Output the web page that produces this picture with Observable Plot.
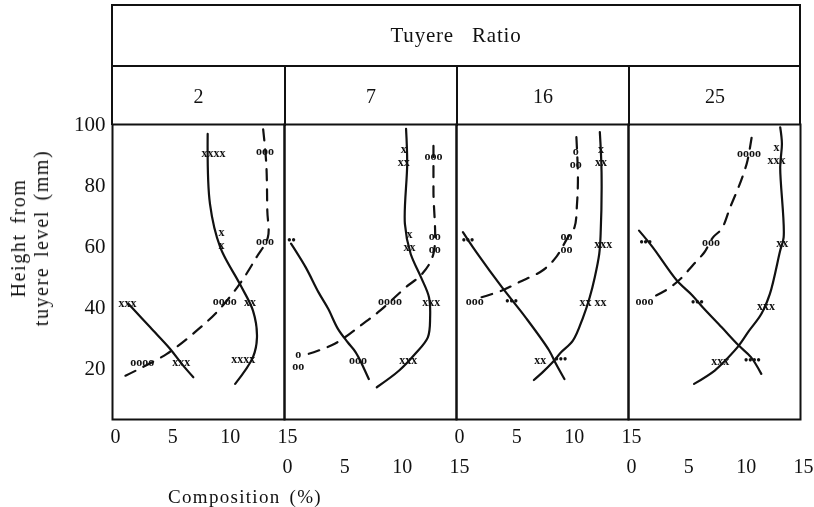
<!DOCTYPE html>
<html><head><meta charset="utf-8">
<script src="https://cdn.jsdelivr.net/npm/d3@7"></script>
<script src="https://cdn.jsdelivr.net/npm/@observablehq/plot@0.6"></script>
<style>
body{margin:0;background:#fff;font-family:"Liberation Serif","DejaVu Serif",serif;color:#111}
#wrap{position:relative;width:814px;height:507px;overflow:hidden;background:#fff}
#chart{position:absolute;left:0;top:0;will-change:transform}
#hdr{position:absolute;top:4px;box-sizing:border-box;border:2px solid #111;border-bottom:none}
#title{height:59px;border-bottom:2px solid #111;display:flex;align-items:center;justify-content:center;font-size:21px;letter-spacing:0.8px;word-spacing:12px}
#row{position:relative;height:59px}
.cell{position:absolute;top:0;height:59px;display:flex;align-items:center;justify-content:center;font-size:20px;box-sizing:border-box}
#ylab{position:absolute;left:30px;top:238px;transform:translate(-50%,-50%) rotate(-90deg);text-align:center;font-size:20px;line-height:23px;white-space:nowrap;letter-spacing:1.6px;word-spacing:3px}
#xlab{position:absolute;left:245px;top:497px;transform:translate(-50%,-50%);font-size:19px;white-space:nowrap;letter-spacing:1.3px;word-spacing:3px}
</style></head>
<body>
<div id="wrap">
  <div id="chart"></div>
  <div id="hdr"><div id="title">Tuyere Ratio</div><div id="row"></div></div>
  <div id="ylab">Height from<br>tuyere level (mm)</div>
  <div id="xlab">Composition (%)</div>
</div>
<script>
const ratios = [2, 7, 16, 25];
const xTicks = [0, 5, 10, 15];
const yTicks = [20, 40, 60, 80, 100];

// measured clusters: [ratio, composition %, height mm, printed symbols]
const co2Points = [
  [2, 8.8, 90.8, "xxxx"], [2, 9.5, 62.5, "x\nx"], [2, 12.0, 41.8, "xx"], [2, 11.4, 23.0, "xxxx"],
  [7, 10.4, 89.8, "x\nxx"], [7, 10.9, 61.8, "x\nxx"], [7, 12.8, 41.5, "xxx"], [7, 10.8, 22.6, "xxx"],
  [16, 12.6, 89.8, "x\nxx"], [16, 12.8, 60.8, "xxx"], [16, 11.9, 41.5, "xx xx"], [16, 7.3, 22.6, "xx"],
  [25, 12.9, 90.4, "x\nxxx"], [25, 13.4, 61.0, "xx"], [25, 12.0, 40.5, "xxx"], [25, 8.0, 22.4, "xxx"]
];
const coPoints = [
  [2, 13.3, 91.2, "ooo"], [2, 13.3, 61.8, "ooo"], [2, 9.8, 41.9, "oooo"], [2, 2.6, 21.8, "oooo"],
  [7, 13.0, 89.8, "ooo"], [7, 13.1, 61.3, "oo\noo"], [7, 9.2, 42.1, "oooo"], [7, 1.2, 22.6, "o\noo"],
  [16, 10.4, 89.2, "o\noo"], [16, 9.6, 61.3, "oo\noo"], [16, 1.6, 42.1, "ooo"],
  [25, 10.5, 90.6, "oooo"], [25, 7.2, 61.3, "ooo"], [25, 1.4, 41.9, "ooo"]
];
const o2Points = [
  [2, 1.3, 41.2, "xxx"], [2, 6.0, 21.8, "xxx"],
  [7, 0.6, 62.1, "••"], [7, 6.4, 22.6, "ooo"],
  [16, 1.0, 62.1, "•••"], [16, 4.8, 41.9, "•••"], [16, 9.1, 22.9, "•••"],
  [25, 1.5, 61.5, "•••"], [25, 6.0, 41.8, "•••"], [25, 10.8, 22.6, "••••"]
];

// hand-drawn trend curves: [ratio, composition %, height mm]
const co2Curve = [
  [2, 8.3, 96.9], [2, 8.5, 73.9], [2, 9.4, 59.6], [2, 11.1, 47.6], [2, 12.25, 38.8], [2, 12.6, 30.0], [2, 12.25, 23.5], [2, 10.7, 14.7],
  [7, 10.6, 98.6], [7, 10.7, 87.1], [7, 10.5, 67.3], [7, 11.0, 57.5], [7, 11.9, 49.8], [7, 12.6, 43.2], [7, 12.7, 36.6], [7, 12.5, 30.0], [7, 11.4, 24.6], [7, 10.0, 19.1], [7, 8.05, 13.6],
  [16, 12.5, 97.5], [16, 12.65, 84.3], [16, 12.57, 64.0], [16, 12.45, 57.5], [16, 12.06, 49.8], [16, 11.62, 43.2], [16, 11.04, 36.6], [16, 10.15, 28.9], [16, 9.12, 25.1], [16, 8.38, 21.8], [16, 7.5, 18.5], [16, 6.75, 16.0],
  [25, 13.23, 99.1], [25, 13.38, 93.7], [25, 13.23, 86.0], [25, 13.53, 62.9], [25, 13.23, 58.6], [25, 12.33, 44.3], [25, 11.58, 37.7], [25, 10.52, 32.2], [25, 9.62, 27.3], [25, 8.72, 23.5], [25, 7.52, 19.1], [25, 5.72, 14.7]
];
const coCurve = [
  [2, 1.13, 17.4], [2, 4.74, 24.6], [2, 7.34, 32.2], [2, 9.22, 38.8], [2, 11.1, 47.6], [2, 12.55, 56.3], [2, 13.55, 62.9], [2, 13.5, 71.7], [2, 13.41, 87.1], [2, 13.12, 99.1],
  [7, 2.12, 24.6], [7, 4.38, 27.9], [7, 6.64, 33.9], [7, 8.33, 38.8], [7, 10.59, 46.5], [7, 12.01, 50.9], [7, 12.99, 57.5], [7, 12.99, 78.3], [7, 12.99, 95.8],
  [16, 2.19, 43.2], [16, 3.96, 45.4], [16, 5.43, 48.1], [16, 7.5, 52.0], [16, 8.67, 56.3], [16, 9.71, 62.9], [16, 10.29, 66.2], [16, 10.51, 73.9], [16, 10.59, 82.7], [16, 10.44, 96.9],
  [25, 2.41, 43.8], [25, 3.47, 46.0], [25, 4.52, 49.2], [25, 5.72, 54.2], [25, 6.62, 58.0], [25, 7.37, 62.9], [25, 8.13, 65.7], [25, 8.87, 72.8], [25, 9.48, 78.3], [25, 9.93, 82.7], [25, 10.38, 88.2], [25, 10.83, 98.0]
];
const o2Curve = [
  [2, 1.41, 41.0], [2, 3.29, 33.3], [2, 5.03, 26.2], [2, 6.04, 21.3], [2, 7.05, 16.9],
  [7, 0.57, 60.8], [7, 1.84, 53.1], [7, 2.97, 44.8], [7, 3.81, 39.4], [7, 4.66, 32.8], [7, 5.51, 28.4], [7, 6.21, 25.1], [7, 7.35, 16.3],
  [16, 0.56, 64.6], [16, 1.44, 59.6], [16, 3.96, 46.5], [16, 6.02, 36.6], [16, 8.08, 25.7], [16, 8.67, 21.3], [16, 9.41, 16.3],
  [25, 0.92, 65.1], [25, 2.12, 59.6], [25, 4.22, 48.7], [25, 5.57, 43.8], [25, 6.47, 39.9], [25, 8.13, 33.3], [25, 9.62, 27.3], [25, 10.68, 23.5], [25, 11.58, 18.0]
];

const toRows = a => a.map(([ratio, x, y, s]) => ({ratio, x, y, s}));
const tickRows = ratios.flatMap((ratio, i) => xTicks.map(t => ({ratio, t, row: i % 2})));

const M = {left: 112, right: 14, top: 124, bottom: 88};
const ink = "#111";
const lineOpts = {x: "x", y: "y", fx: "ratio", stroke: ink, strokeWidth: 2.2, curve: "catmull-rom"};
const symOpts = {x: "x", y: "y", fx: "ratio", text: "s", fill: ink, fontSize: 12, lineHeight: 1.05, lineAnchor: "middle", textAnchor: "middle", fontWeight: "bold"};

const plot = Plot.plot({
  width: 814, height: 507,
  marginLeft: M.left, marginRight: M.right, marginTop: M.top, marginBottom: M.bottom,
  style: {fontFamily: "'Liberation Serif', 'DejaVu Serif', serif", fontSize: "20px", color: ink, background: "transparent", overflow: "visible"},
  fx: {domain: ratios, padding: 0, axis: null, label: null},
  x: {domain: [0, 15], axis: null},
  y: {domain: [3, 100]},
  marks: [
    Plot.frame({stroke: ink, strokeWidth: 2}),
    Plot.axisY(yTicks, {anchor: "left", tickSize: 0, tickPadding: 7, label: null, fontSize: 21, tickFormat: d => String(d)}),
    Plot.line(toRows(o2Curve), lineOpts),
    Plot.line(toRows(co2Curve), lineOpts),
    Plot.line(toRows(coCurve), {...lineOpts, strokeDasharray: "11,9"}),
    Plot.text(toRows(co2Points), symOpts),
    Plot.text(toRows(coPoints), symOpts),
    Plot.text(toRows(o2Points), symOpts),
    Plot.text(tickRows.filter(d => d.row === 0), {x: "t", fx: "ratio", text: d => String(d.t), frameAnchor: "bottom", dy: 17, dx: 3, lineAnchor: "middle", fontSize: 20, fill: ink}),
    Plot.text(tickRows.filter(d => d.row === 1), {x: "t", fx: "ratio", text: d => String(d.t), frameAnchor: "bottom", dy: 47, dx: 3, lineAnchor: "middle", fontSize: 20, fill: ink})
  ]
});
document.getElementById("chart").appendChild(plot);

// header boxes aligned with the facet bands
const hdr = document.getElementById("hdr");
const plotW = 814 - M.left - M.right;
hdr.style.left = (M.left - 1) + "px";
hdr.style.width = (plotW + 2) + "px";
hdr.style.height = (M.top - 4 + 1) + "px";
const row = document.getElementById("row");
const bw = plotW / ratios.length;
ratios.forEach((r, i) => {
  const c = document.createElement("div");
  c.className = "cell";
  c.style.left = (i * bw - 1) + "px";
  c.style.width = (bw + (i === 0 ? 1 : 0)) + "px";
  if (i > 0) c.style.borderLeft = "2px solid " + ink;
  c.textContent = String(r);
  row.appendChild(c);
});
</script>
</body></html>
